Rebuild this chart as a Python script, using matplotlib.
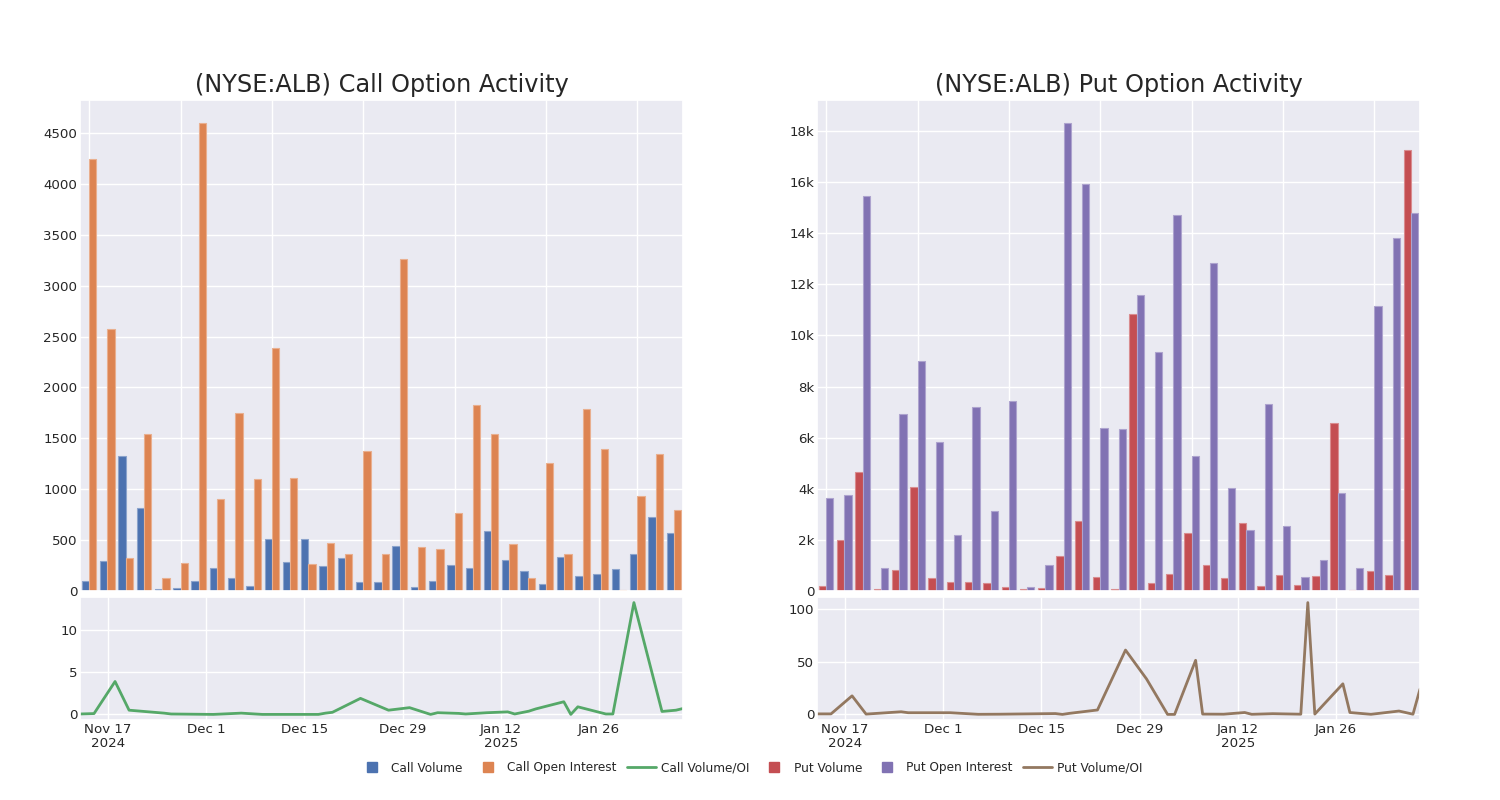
import matplotlib
matplotlib.use("Agg")
import matplotlib.pyplot as plt
from matplotlib.lines import Line2D
import matplotlib.ticker as mticker
import matplotlib.colors as mcolors
import seaborn as sns
import pandas as pd
import numpy as np

sns.set_theme(style="darkgrid")
plt.rcParams['font.family'] = ['DejaVu Sans']

dates = ["2024-11-13", "2024-11-15", "2024-11-18", "2024-11-20", "2024-11-25", "2024-11-26",
         "2024-12-02", "2024-12-06", "2024-12-09", "2024-12-17", "2024-12-18", "2024-12-19",
         "2024-12-23", "2024-12-27", "2024-12-30", "2025-01-02", "2025-01-03", "2025-01-06",
         "2025-01-07", "2025-01-10", "2025-01-13", "2025-01-14", "2025-01-16", "2025-01-17",
         "2025-01-21", "2025-01-22", "2025-01-23", "2025-01-27", "2025-01-28", "2025-01-31",
         "2025-02-04", "2025-02-06", "2025-02-07"]

call_volume = [99, 299, 1328, 818, 20, 26, 99, 227, 128, 46, 509, 289, 509, 247, 322, 92, 85,
               440, 39, 95, 256, 224, 588, 309, 200, 66, 339, 151, 168, 220, 365, 723, 572]
call_oi = [4247, 2577, 329, 1545, 131, 279, 4595, 901, 1745, 1098, 2390, 1108, 266, 467, 368, 1374, 365,
           3264, 437, 417, 766, 1824, 1542, 457, 131, 1259, 365, 1788, 1394, 10, 934, 1344, 795]
call_ratio = [0.05, 0.1, 3.9, 0.5, 0.15, 0.05, 0.0, 0.15, 0.0, 0.0, 0.15, 0.25, 1.9, 0.5, 0.8, 0.0, 0.2,
              0.12, 0.05, 0.2, 0.3, 0.05, 0.38, 0.65, 1.5, 0.0, 0.9, 0.05, 0.05, 13.25, 0.35, 0.5, 0.7]

put_volume = [183, 2000, 4666, 92, 823, 4078, 510, 340, 366, 327, 144, 65, 118, 1372, 2732, 562, 78,
              10835, 300, 667, 2287, 1019, 523, 2679, 196, 640, 248, 575, 6561, 26, 771, 627, 17265]
put_oi = [3620, 3751, 15462, 902, 6914, 9018, 5816, 2196, 7202, 3124, 7424, 170, 1019, 18298, 15945, 6365, 6326,
          11593, 9358, 14717, 5293, 12848, 4039, 2392, 7332, 2536, 536, 1229, 3843, 889, 11136, 13815, 14795]
put_ratio = [0.5, 0.5, 17.6, 0.3, 2.5, 1.6, 1.6, 0.1, 0.2, 0.8, 0.0, 1.0, 4.2, 61, 33.6, 0.0, 0.0,
             51.3, 0.3, 0.2, 1.8, 0.1, 0.5, 0.7, 0.2, 106, 0.3, 29, 1.8, 0.1, 3.2, 0.2, 24]

tick_dates = ["2024-11-17", "2024-12-01", "2024-12-15", "2024-12-29", "2025-01-12", "2025-01-26"]
tick_labels = ["Nov 17\n2024", "Dec 1", "Dec 15", "Dec 29", "Jan 12\n2025", "Jan 26"]

C_BLUE, C_ORANGE, C_GREEN = "#4C72B0", "#DD8452", "#55A868"
C_RED, C_PURPLE, C_BROWN = "#C44E52", "#8172B3", "#937860"

TICK_FS = 9.6

fig = plt.figure(figsize=(15, 8), dpi=100)
W, H = 1500, 800

def ax_at(x0, y0, x1, y1):
    return fig.add_axes([x0 / W, 1 - y1 / H, (x1 - x0) / W, (y1 - y0) / H])

def lighter(c, f=0.35):
    r = np.array(mcolors.to_rgb(c))
    return tuple(r + (1 - r) * f)

dts = pd.to_datetime(dates)
n = len(dates)
xs = np.arange(n)

def bars(ax, v1, v2, c1, c2, title, kfmt):
    w = 0.4
    ax.bar(xs - w / 2, v1, width=w, color=c1, edgecolor=lighter(c1), linewidth=0.8)
    ax.bar(xs + w / 2, v2, width=w, color=c2, edgecolor=lighter(c2), linewidth=0.8)
    ax.set_xlim(-0.5, n - 0.5)
    ax.set_xticks(np.arange(0, n, 5))
    ax.set_xticklabels([])
    ax.tick_params(axis='x', length=0)
    ax.set_title(title, fontsize=17.3, pad=6, color="#262626")
    ax.tick_params(axis='y', labelsize=TICK_FS, pad=2, length=0)
    if kfmt:
        ax.yaxis.set_major_formatter(mticker.FuncFormatter(lambda v, p: "0" if v == 0 else f"{int(v/1000)}k"))

def line(ax, vals, color):
    ax.plot(dts, vals, color=color, linewidth=2)
    ax.set_xlim(dts[0], dts[-1])
    ax.set_xticks(pd.to_datetime(tick_dates))
    ax.set_xticklabels(tick_labels, fontsize=TICK_FS, linespacing=1.1)
    ax.tick_params(axis='y', labelsize=TICK_FS, pad=2, length=0)
    ax.tick_params(axis='x', pad=2.5, length=0)

axb1 = ax_at(80, 100, 683, 591)
axl1 = ax_at(80, 597, 683, 720)
axb2 = ax_at(817, 100, 1420, 591)
axl2 = ax_at(817, 597, 1420, 720)

bars(axb1, call_volume, call_oi, C_BLUE, C_ORANGE, "(NYSE:ALB) Call Option Activity", False)
bars(axb2, put_volume, put_oi, C_RED, C_PURPLE, "(NYSE:ALB) Put Option Activity", True)
axb1.set_yticks(np.arange(0, 4501, 500))
axb2.set_yticks(np.arange(0, 18001, 2000))
line(axl1, call_ratio, C_GREEN)
line(axl2, put_ratio, C_BROWN)
axl1.set_yticks([0, 5, 10])
axl2.set_yticks([0, 50, 100])

handles = [
    Line2D([], [], marker='s', linestyle='', color=C_BLUE, markersize=6.5),
    Line2D([], [], marker='s', linestyle='', color=C_ORANGE, markersize=6.5),
    Line2D([], [], color=C_GREEN, linewidth=2),
    Line2D([], [], marker='s', linestyle='', color=C_RED, markersize=6.5),
    Line2D([], [], marker='s', linestyle='', color=C_PURPLE, markersize=6.5),
    Line2D([], [], color=C_BROWN, linewidth=2),
]
labels = ["Call Volume", "Call Open Interest", "Call Volume/OI", "Put Volume", "Put Open Interest", "Put Volume/OI"]
fig.legend(handles, labels, loc="center", bbox_to_anchor=(0.5, 1 - 768 / H), ncol=6, frameon=False,
           fontsize=8.7, handlelength=2.4, columnspacing=0.87, handletextpad=0.4)

fig.savefig("out.png", dpi=100, facecolor="white")
